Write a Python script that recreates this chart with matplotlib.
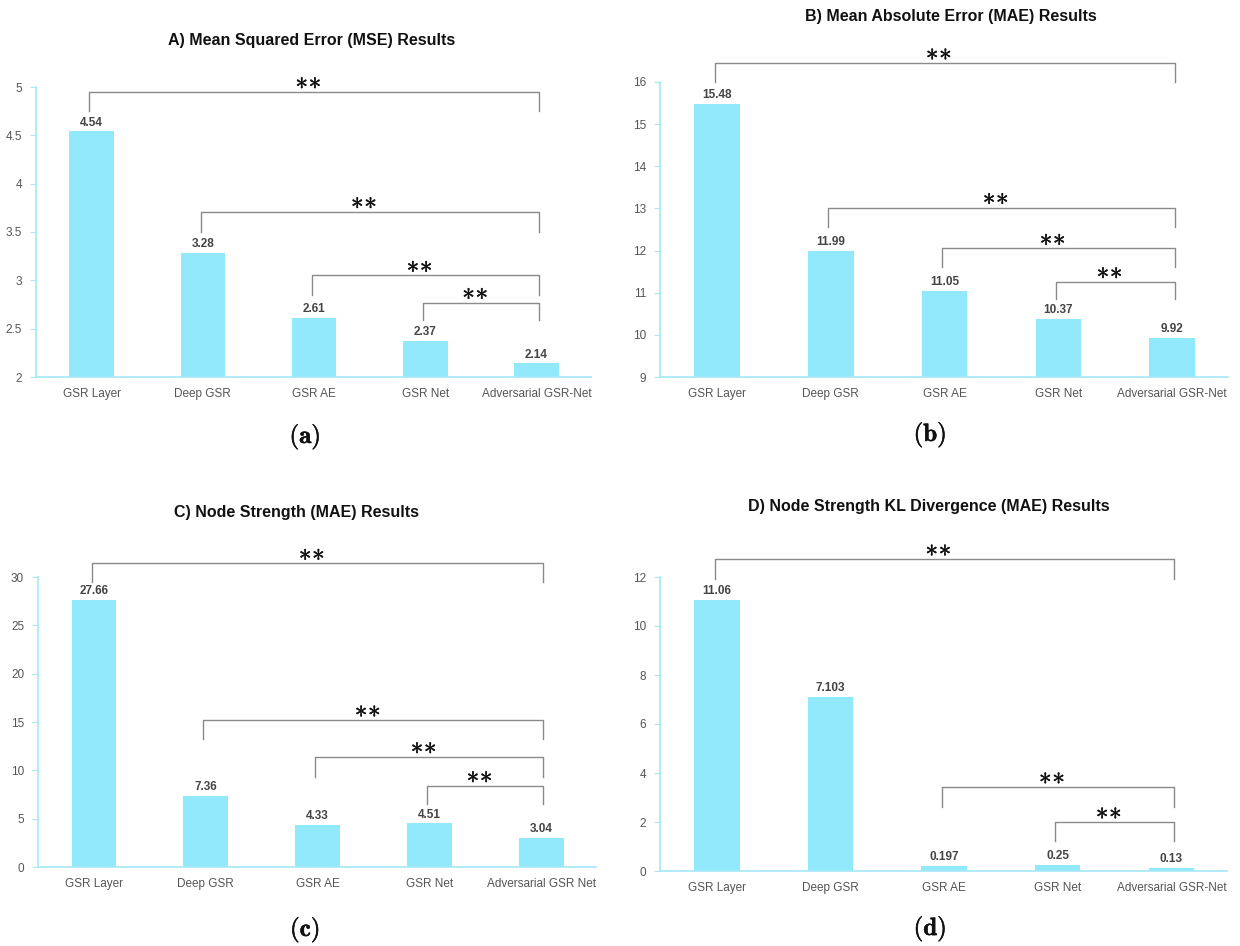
import numpy as np
import matplotlib
matplotlib.use('Agg')
import matplotlib.pyplot as plt
import matplotlib.patheffects as pe

plt.rcParams['font.family'] = ['Liberation Sans', 'DejaVu Sans']
plt.rcParams['mathtext.fontset'] = 'cm'

methods = ['GSR Layer', 'Deep GSR', 'GSR AE', 'GSR Net', 'Adversarial GSR-Net']
methods_c = ['GSR Layer', 'Deep GSR', 'GSR AE', 'GSR Net', 'Adversarial GSR Net']

mse = [4.54, 3.28, 2.61, 2.37, 2.14]
mae = [15.48, 11.99, 11.05, 10.37, 9.92]
node_str = [27.66, 7.36, 4.33, 4.51, 3.04]
node_kl = [11.06, 7.103, 0.197, 0.25, 0.13]

titles = ['A) Mean Squared Error (MSE) Results',
          'B) Mean Absolute Error (MAE) Results',
          'C) Node Strength (MAE) Results',
          'D) Node Strength KL Divergence (MAE) Results']
sub_labels = ['(a)', '(b)', '(c)', '(d)']

# significance brackets: (from, to, top, leg bottom)
br_a = [(0, 4, 4.95, 4.75), (1, 4, 3.71, 3.5), (2, 4, 3.05, 2.85), (3, 4, 2.77, 2.59)]
br_b = [(0, 4, 16.45, 16.0), (1, 4, 13.02, 12.55), (2, 4, 12.05, 11.6), (3, 4, 11.26, 10.86)]
br_c = [(0, 4, 31.4, 29.5), (1, 4, 15.2, 13.2), (2, 4, 11.4, 9.3), (3, 4, 8.4, 6.5)]
br_d = [(0, 4, 12.73, 11.9), (2, 4, 3.43, 2.6), (3, 4, 2.0, 1.22)]

bar_col = '#92e9fc'
spine_col = '#a6e8f7'
txt_col = '#555555'

fig = plt.figure(figsize=(12.4, 9.46), dpi=100)

def panel(rect, names, vals, ylim, yticks, brackets, title, title_xy, lab, lab_xy):
    ax = fig.add_axes(rect)
    x = np.arange(len(vals))
    ax.bar(x, vals, width=0.4, color=bar_col, zorder=2)
    ax.set_xlim(-0.5, 4.49)
    ax.set_ylim(*ylim)
    ax.set_yticks(yticks)
    ax.set_yticklabels(['%g' % t for t in yticks])
    ax.set_xticks(x)
    ax.set_xticklabels(names)
    for s in ['top', 'right']:
        ax.spines[s].set_visible(False)
    for s in ['left', 'bottom']:
        ax.spines[s].set_color(spine_col)
        ax.spines[s].set_linewidth(1.2)
    ax.tick_params(axis='x', length=0, pad=8, labelsize=8.5, labelcolor=txt_col)
    ax.tick_params(axis='y', length=4, color=spine_col, pad=6, labelsize=8.5, labelcolor=txt_col)
    for i, v in enumerate(vals):
        ax.annotate('%g' % v, (i, v), xytext=(0, 2), textcoords='offset points',
                    ha='center', va='bottom', fontsize=8.5, fontweight='bold', color='#444444')
    for a, b, top, bot in brackets:
        xa, xb = a - 0.02, b + 0.02
        ax.plot([xa, xa, xb, xb], [bot, top, top, bot], color='#8a8a8a', lw=1,
                clip_on=False, zorder=3)
        ax.annotate(r'$\ast\!\ast$', ((xa + xb) / 2, top), xytext=(-4, 7),
                    textcoords='offset points', ha='center', va='center',
                    fontsize=18, color='#111111', annotation_clip=False,
                    path_effects=[pe.withStroke(linewidth=0.35, foreground='#111111')])
    fig.text(title_xy[0], title_xy[1], title, ha='center', va='center',
             fontsize=11.5, fontweight='bold', color='#111111')
    fig.text(lab_xy[0], lab_xy[1], r'$\mathbf{%s}$' % lab, ha='center', va='center',
             fontsize=18, color='#111111',
             path_effects=[pe.withStroke(linewidth=0.4, foreground='#111111')])
    return ax

W, H = 1240.0, 946.0
panel([36 / W, 1 - 377 / H, 555 / W, 290 / H], methods, mse, (2, 5),
      [2, 2.5, 3, 3.5, 4, 4.5, 5], br_a, titles[0], (312 / W, 1 - 41 / H),
      sub_labels[0], (305 / W, 1 - 437 / H))
panel([660 / W, 1 - 377 / H, 568 / W, 295 / H], methods, mae, (9, 16),
      list(range(9, 17)), br_b, titles[1], (951 / W, 1 - 16 / H),
      sub_labels[1], (930 / W, 1 - 435 / H))
panel([38 / W, 1 - 867 / H, 558 / W, 290 / H], methods_c, node_str, (0, 30),
      list(range(0, 31, 5)), br_c, titles[2], (297 / W, 1 - 512 / H),
      sub_labels[2], (305 / W, 1 - 930 / H))
panel([660 / W, 1 - 871 / H, 567 / W, 294 / H], methods, node_kl, (0, 12),
      list(range(0, 13, 2)), br_d, titles[3], (929 / W, 1 - 506 / H),
      sub_labels[3], (930 / W, 1 - 929 / H))

fig.savefig('out.png', dpi=100, facecolor='white')
